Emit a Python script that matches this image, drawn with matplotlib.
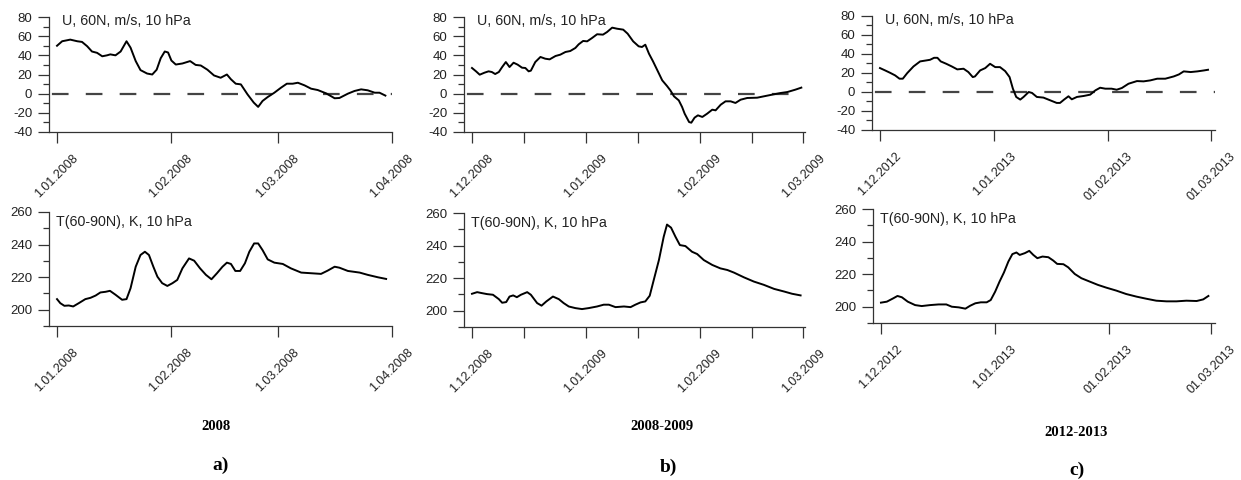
import numpy as np
import matplotlib
matplotlib.use('Agg')
import matplotlib.pyplot as plt
from matplotlib.ticker import MultipleLocator

plt.rcParams['font.family'] = ['Liberation Sans', 'DejaVu Sans']
plt.rcParams['axes.unicode_minus'] = False

W, H = 1241, 480

# --- 2008 (days from 1.01.2008) ---
u08_days = [0, 1.4, 2.7, 3.6, 5.5, 6.8, 8.2, 9.5, 10.9, 12.3, 13.6, 14.5, 15.9, 17.3, 18.9, 20, 21.4, 22.7, 24.5, 25.9,
            27.1, 28.2, 29.3, 30.2, 31.1, 32.3, 34.1, 36.2, 37.7, 39.1, 40.9, 42.7, 44.5, 46.2, 47.3, 48.6, 50, 51.8, 53.5, 54.7,
            55.9, 57.3, 59.1, 60.9, 62.5, 64.1, 65.5, 67.3, 69.1, 70.9, 73.2, 75.5, 76.8, 79.1, 80.9, 82.7, 84.5, 86.4, 87.7, 89.3]
u08_vals = [50, 54.7, 55.7, 56.4, 54.7, 54, 49.5, 44, 42.6, 39, 40, 41, 40, 44, 54.7, 48, 34, 24.6, 21, 20,
            25, 37, 44, 43, 34.6, 30.4, 31.5, 34, 30, 29.4, 25, 19, 16.6, 20, 15, 10.4, 9.7, -0.7, -9.3, -13.8,
            -7.6, -3.5, 1, 6.2, 10.4, 10.4, 11.4, 8.7, 5.2, 3.8, 0.3, -4.8, -4.5, 0, 2.8, 4.5, 3.5, 1, 1, -2]
t08_days = [0, 0.9, 2, 3.2, 4.4, 5.9, 7.7, 9.1, 10.5, 11.8, 13.2, 14.4, 15.9, 17.7, 18.9, 20, 21.4, 22.7, 23.9, 25,
            26.2, 27.3, 28.6, 30, 31.4, 32.7, 34.1, 35.9, 37.3, 38.9, 40.5, 42, 43.5, 45, 46.2, 47.3, 48.5, 49.8, 51.1, 52.3,
            53.6, 54.7, 55.9, 57.3, 59.1, 61.4, 63.6, 66.4, 69.1, 71.8, 73.6, 75.5, 76.8, 79.1, 82.3, 84.5, 87.3, 89.5]
t08_vals = [206.5, 204, 202.4, 202.6, 202, 204, 206.5, 207.3, 208.7, 210.6, 211, 211.6, 209.2, 206.1, 206.5, 213.2, 226.4, 233.6, 235.6, 233.6,
            226.4, 220.3, 216.3, 214.6, 216.3, 218.3, 225.4, 231.5, 230.1, 225.4, 221.4, 218.7, 222.4, 226.4, 228.9, 228.1, 223.8, 223.8, 228.5, 235.6,
            240.7, 240.7, 236.6, 230.9, 228.9, 228.1, 225.4, 222.8, 222.4, 222, 224, 226.4, 225.8, 223.8, 222.8, 221.4, 219.9, 218.9]

# --- 2008-2009 (days from 1.12.2008) ---
u09_days = [0, 1.1, 2.1, 3.4, 4.5, 5.4, 6.3, 7.3, 8.2, 9.2, 10.2, 11.3, 12.4, 13.6, 14.5, 15.4, 16, 17.2, 18.6, 19.9,
            21.1, 22.7, 24, 25.4, 26.7, 28.1, 29, 30.2, 31.3, 32.6, 34, 35.6, 36.7, 38.1, 39.4, 41.1, 42.3, 43.8, 45.3, 46.2,
            47.1, 48.1, 49.2, 50.3, 51.7, 53, 53.9, 54.9, 56.2, 57.1, 57.8, 59, 59.6, 60.5, 61.4, 62.6, 63.9, 65.3, 66.2, 67.6,
            68.9, 70.3, 71.6, 73, 74.8, 77.5, 79.8, 82, 83.9, 85.7, 87.9, 89.5]
u09_vals = [26.8, 23.3, 19.8, 21.9, 23.3, 22.6, 20.5, 22.6, 27.8, 33, 27.8, 32.3, 30.3, 27.1, 26.8, 23.3, 24, 33, 38.3, 36.5,
            35.8, 39.3, 40.7, 43.5, 44.5, 47.7, 51.5, 55, 54.6, 58, 62, 61.6, 64.3, 68.9, 67.8, 66.8, 62.6, 54.6, 49.4, 48.7,
            51.1, 41.7, 33.7, 25, 13.9, 8, 3.5, -2.8, -7, -13.9, -20.9, -29.6, -30.3, -25, -22.6, -24.3, -20.9, -16.7, -17.4, -11.5,
            -8, -8, -9.7, -6.3, -4.5, -4.2, -2.4, -0.7, 0.7, 1.7, 4.2, 6.3]
t09_days = [0, 1.4, 2.7, 4.1, 5.7, 7.3, 8.2, 9.3, 10.2, 11.2, 12.2, 13.3, 15, 16, 17.7, 18.9, 20.2, 22, 23.6, 24.9,
            26.3, 28.1, 29.9, 31.7, 34, 35.8, 37.2, 39, 41.3, 43.1, 44.4, 45.8, 47.1, 48.3, 49.4, 50.8, 52.1, 53, 54.1, 55.3,
            56.5, 58, 59.8, 61.2, 63, 65.3, 67.5, 69.4, 71.2, 73.9, 76.6, 79.3, 82.1, 84.8, 87, 89.3]
t09_vals = [210.4, 211.4, 210.8, 210.2, 209.8, 207.1, 204.9, 205.3, 208.7, 209.4, 208.3, 209.8, 211.4, 209.8, 204.7, 203.1, 205.7, 208.7, 207.1, 204.7,
            202.6, 201.6, 201, 201.6, 202.6, 203.7, 203.7, 202.2, 202.6, 202.2, 203.7, 205.1, 205.7, 209.2, 218.9, 231.1, 245.4, 252.9, 251, 245.4,
            240.3, 239.7, 236.2, 234.8, 231.1, 228.1, 226, 225, 223.4, 220.5, 217.9, 215.9, 213.4, 211.8, 210.4, 209.4]

# --- 2012-2013 (days from 1.12.2012) ---
u13_days = [0, 1.4, 2.7, 4.1, 5.3, 6.2, 7.4, 9.1, 10.9, 12.5, 13.6, 14.7, 15.6, 16.5, 18, 19.5, 21, 22.7, 24, 25.2,
            25.8, 27.2, 28.6, 29.9, 31.3, 32.6, 34, 35.2, 36.1, 37, 38.1, 39, 40.4, 41.3, 42.6, 44.4, 46.2, 48, 48.9, 50,
            51.2, 52.1, 53.5, 55.3, 57.1, 58.5, 59.8, 61.2, 62.9, 64.3, 65.7, 67.5, 69.8, 71.6, 73.4, 75.3, 77.5, 79.8, 81.2, 82.5,
            84.4, 86.2, 88, 89.1]
u13_vals = [25.2, 22.7, 20.3, 17.5, 14, 14, 19.9, 26.9, 32.2, 33.2, 33.9, 36, 36, 32.2, 29.7, 26.9, 23.8, 24.5, 21, 15.7,
            16.4, 22.7, 25.2, 29.7, 26.2, 26.2, 22, 15.7, 3.5, -5.2, -8, -5.2, 0, -1, -5.2, -5.9, -8.7, -11.5, -11.5, -8,
            -4.5, -7.7, -5.2, -4.2, -2.8, 1.7, 4.5, 3.5, 3.5, 2.4, 4.2, 8.7, 11.5, 11.2, 12.2, 14, 14, 16.4, 18.5, 21.7,
            21, 21.7, 22.7, 23.4]
t13_days = [0, 1.6, 3.3, 4.5, 5.7, 7.3, 9.3, 11.1, 13.4, 15.7, 17.8, 19.3, 21.2, 23, 24.3, 25.7, 27.2, 28.8, 29.9, 31.1,
            32.3, 33.5, 34.7, 35.8, 36.9, 37.8, 39.2, 40.4, 41.5, 42.6, 44, 45.6, 46.9, 48, 49.7, 51, 52.8, 54.6, 56.9, 59.1,
            61.4, 64.1, 66.8, 69.6, 72.3, 75, 77.8, 80.5, 83.2, 86, 87.8, 89.2]
t13_vals = [202.5, 203.1, 205.1, 206.6, 205.8, 203.1, 201, 200.4, 201, 201.4, 201.4, 200, 199.6, 198.8, 200.6, 202.1, 202.7, 202.7, 204.1, 209.2,
            215.4, 221, 227.7, 232.3, 233.3, 231.8, 232.9, 234.3, 231.8, 229.8, 230.8, 230.4, 228.4, 226.3, 226.1, 224.2, 220.1, 217.5, 215.4, 213.4,
            211.7, 209.9, 207.8, 206.2, 204.9, 203.7, 203.3, 203.3, 203.7, 203.5, 204.5, 206.6]

start_dates = ['2008-01-01', '2008-12-01', '2012-12-01']
major_dates = [['2008-01-01', '2008-02-01', '2008-03-01', '2008-04-01'],
               ['2008-12-01', '2009-01-01', '2009-02-01', '2009-03-01'],
               ['2012-12-01', '2013-01-01', '2013-02-01', '2013-03-01']]
minor_dates = [[], ['2008-12-15', '2009-01-15', '2009-02-15'], []]
tick_labels = [['1.01.2008', '1.02.2008', '1.03.2008', '1.04.2008'],
               ['1.12.2008', '1.01.2009', '1.02.2009', '1.03.2009'],
               ['1.12.2012', '1.01.2013', '01.02.2013', '01.03.2013']]
period_names = ['2008', '2008-2009', '2012-2013']
panel_letters = ['a)', 'b)', 'c)']

u_series = [(u08_days, u08_vals), (u09_days, u09_vals), (u13_days, u13_vals)]
t_series = [(t08_days, t08_vals), (t09_days, t09_vals), (t13_days, t13_vals)]

# axes rectangles in pixels: left, top, right, bottom
rects_top = [(49, 17, 392, 132), (464, 17, 805, 132), (872, 16, 1215, 130)]
rects_bot = [(49, 212, 392, 326), (464, 213, 805, 327), (873, 209, 1215, 323)]
xlims = [(-2.18, 91.1), (-2.17, 90.5), (-2.17, 91.0)]
name_pos = [(216, 427), (662, 427), (1076, 432)]
letter_pos = [(221, 465), (668, 467), (1077, 470)]

INK = '#222222'


def days_since(d, start):
    return (np.datetime64(d) - np.datetime64(start)) / np.timedelta64(1, 'D')


def make_axes(fig, r):
    l, t, rr, b = r
    return fig.add_axes([l / W, 1 - b / H, (rr - l) / W, (b - t) / H])


def style_axes(ax, i):
    for s in ['top', 'right']:
        ax.spines[s].set_visible(False)
    for s in ['left', 'bottom']:
        ax.spines[s].set_color('#333333')
        ax.spines[s].set_linewidth(0.9)
    start = start_dates[i]
    ax.set_xticks([days_since(d, start) for d in major_dates[i]])
    ax.set_xticklabels(tick_labels[i], rotation=45, ha='center')
    if minor_dates[i]:
        ax.set_xticks([days_since(d, start) for d in minor_dates[i]], minor=True)
    ax.tick_params(axis='x', which='both', direction='out', length=8, width=0.9,
                   color='#333333', labelsize=9, labelcolor=INK, pad=6.5)
    ax.tick_params(axis='y', which='major', direction='out', length=8, width=0.9,
                   color='#333333', labelsize=9.5, labelcolor=INK, pad=4)
    ax.tick_params(axis='y', which='minor', direction='out', length=4, width=0.9, color='#333333')
    ax.set_xlim(*xlims[i])


fig = plt.figure(figsize=(W / 100, H / 100), dpi=100)

lw_dash = 1.6
for i in range(3):
    # zonal wind
    ax = make_axes(fig, rects_top[i])
    style_axes(ax, i)
    ax.set_ylim(-40, 80)
    ax.yaxis.set_major_locator(MultipleLocator(20))
    ax.yaxis.set_minor_locator(MultipleLocator(10))
    ax.axhline(0, color='#444444', lw=lw_dash, ls=(15.5 * 1.44 / lw_dash, (12.0 / lw_dash, 12.4 / lw_dash)))
    ax.plot(*u_series[i], color='black', lw=1.4)
    ax.text(0.038, 0.965, 'U, 60N, m/s, 10 hPa', transform=ax.transAxes,
            ha='left', va='center', fontsize=10.3, color=INK)

    # polar cap temperature
    ax = make_axes(fig, rects_bot[i])
    style_axes(ax, i)
    ax.set_ylim(190, 260)
    ax.set_yticks([200, 220, 240, 260])
    ax.yaxis.set_minor_locator(MultipleLocator(10))
    ax.plot(*t_series[i], color='black', lw=1.4)
    ax.text(0.02, 0.91, 'T(60-90N), K, 10 hPa', transform=ax.transAxes,
            ha='left', va='center', fontsize=10.3, color=INK)

    fig.text(name_pos[i][0] / W, 1 - name_pos[i][1] / H, period_names[i],
             ha='center', va='center', fontsize=10.5, fontweight='bold',
             family='Liberation Serif', color='black')
    fig.text(letter_pos[i][0] / W, 1 - letter_pos[i][1] / H, panel_letters[i],
             ha='center', va='center', fontsize=14, fontweight='bold',
             family='Liberation Serif', color='black')

fig.savefig('out.png', dpi=100)
